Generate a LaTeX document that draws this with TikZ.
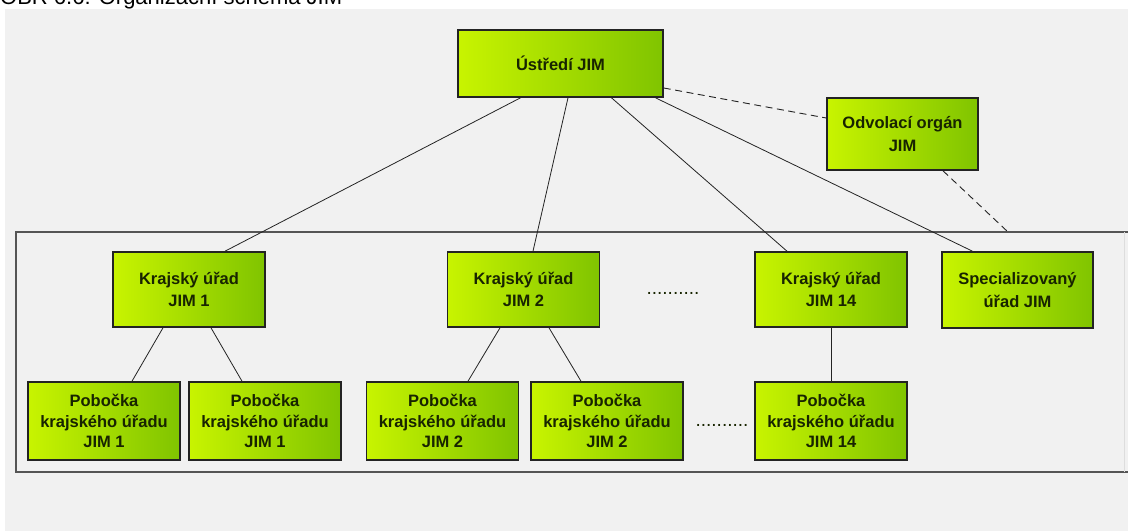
\documentclass[tikz,border=0pt]{standalone}
\usepackage{fontspec}
\setmainfont{Liberation Sans}
\usepackage{xcolor}
\usetikzlibrary{positioning}
\definecolor{JIMLime}{RGB}{200,244,0}
\definecolor{JIMGreen}{RGB}{128,196,0}
\definecolor{JIMText}{RGB}{24,36,0}
\definecolor{JIMLine}{RGB}{35,35,35}
\definecolor{JIMBack}{RGB}{241,241,241}
\definecolor{JIMFrame}{RGB}{85,85,85}
\tikzset{
  gbox/.style={draw=JIMLine,line width=1.6pt,left color=JIMLime,right color=JIMGreen,
    align=center,text=JIMText,inner sep=0pt,minimum width=152pt,minimum height=76pt,
    font=\fontsize{16.5}{20.5}\selectfont\bfseries},
  tbox/.style={gbox,font=\fontsize{16.5}{22.5}\selectfont\bfseries},
  link/.style={JIMLine,line width=0.8pt},
  dlink/.style={JIMLine,line width=0.9pt,dash pattern=on 7pt off 4.5pt},
  dots/.style={text=JIMText,inner sep=0pt,font=\fontsize{19}{20}\selectfont},
}
\begin{document}
\begin{tikzpicture}[x=1pt,y=-1pt]
  \useasboundingbox (0,0) rectangle (1128,531);
  \clip (0,0) rectangle (1128,531);
  %% Background and caption
  \fill[white] (0,0) rectangle (1128,531);
  \fill[JIMBack] (5,9) rectangle (1128,531);
  \node[anchor=base west,inner sep=0pt,font=\fontsize{22}{24}\selectfont] (caption) at (0,4) {OBR 6.6: Organizační schéma JIM};
  %% Frame around regional offices
  \draw[JIMFrame,line width=1.5pt] (1135,232) -- (16,232) -- (16,472) -- (1135,472);
  \draw[white!80!JIMFrame,line width=0.8pt] (1124,232) -- (1124,472);
  \coordinate (odvEnd) at (1008,232);
  %% Head office and appeal body
  \node[gbox,minimum width=205pt,minimum height=67pt] (ustredi) at (560.5,63.5) {Ústředí JIM};
  \node[tbox,minimum width=151pt,minimum height=72pt] (odvolaci) at (902.5,134) {Odvolací orgán\\JIM};
  %% Regional offices
  \node[tbox,minimum height=75pt] (kraj1)  at (189,289.5)  {Krajský úřad\\JIM 1};
  \node[tbox,minimum height=75pt] (kraj2)  at (523.5,289.5) {Krajský úřad\\JIM 2};
  \node[tbox,minimum height=75pt] (kraj14) at (831,289.5)  {Krajský úřad\\JIM 14};
  \node[tbox,minimum width=151pt] (spec)   at (1017.5,290) {Specializovaný\\úřad JIM};
  \node[dots] (dotsA) at (673,293) {..........};
  %% Branches
  \node[gbox,minimum height=78pt] (pob1a)  at (104,421)   {Pobočka\\krajského úřadu\\JIM 1};
  \node[gbox,minimum height=78pt] (pob1b)  at (265,421)   {Pobočka\\krajského úřadu\\JIM 1};
  \node[gbox,minimum height=78pt] (pob2a)  at (442.5,421) {Pobočka\\krajského úřadu\\JIM 2};
  \node[gbox,minimum height=78pt] (pob2b)  at (607,421)   {Pobočka\\krajského úřadu\\JIM 2};
  \node[gbox,minimum height=78pt] (pob14)  at (831,421)   {Pobočka\\krajského úřadu\\JIM 14};
  \node[dots] (dotsB) at (722,425) {..........};
  %% Links
  \draw[link] ([xshift=-40pt]ustredi.south) -- ([xshift=36pt]kraj1.north);
  \draw[link] ([xshift=7.5pt]ustredi.south) -- ([xshift=9.5pt]kraj2.north);
  \draw[link] ([xshift=51pt]ustredi.south) -- ([xshift=-44pt]kraj14.north);
  \draw[link] ([xshift=95pt]ustredi.south) -- ([xshift=-45pt]spec.north);
  \draw[link] ([xshift=-26pt]kraj1.south) -- ([xshift=28pt]pob1a.north);
  \draw[link] ([xshift=22pt]kraj1.south) -- ([xshift=-23pt]pob1b.north);
  \draw[link] ([xshift=-23.5pt]kraj2.south) -- ([xshift=25.5pt]pob2a.north);
  \draw[link] ([xshift=25.5pt]kraj2.south) -- ([xshift=-26pt]pob2b.north);
  \draw[link] (kraj14.south) -- (pob14.north);
  \draw[dlink] ([yshift=-24.5pt]ustredi.east) -- ([yshift=16pt]odvolaci.west);
  \draw[dlink] ([xshift=40.5pt]odvolaci.south) -- (odvEnd);
\end{tikzpicture}
\end{document}
